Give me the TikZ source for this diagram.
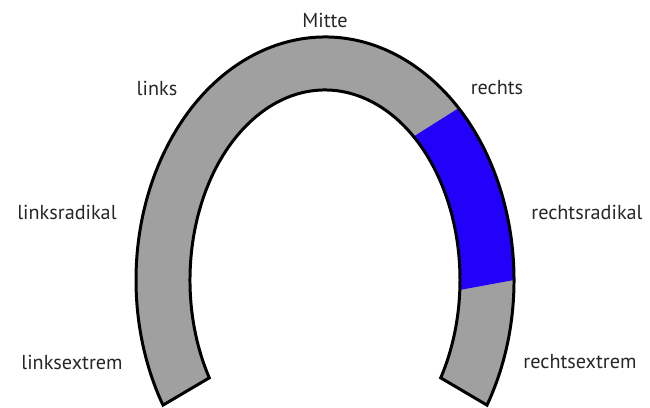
\documentclass[tikz,border=0pt]{standalone}
\usepackage{fontspec}
\setmainfont{PT Sans}
\definecolor{ringgray}{RGB}{160,160,160}
\definecolor{ringblue}{RGB}{35,0,250}
\begin{document}
\begin{tikzpicture}[x=0.02cm,y=0.02cm,
  lbl/.style={font=\fontsize{11.5}{13}\selectfont, text=black!85}]
\useasboundingbox (0,0) rectangle (650,408);
\begin{scope}[shift={(325,128)}]
  \fill[ringgray] (-31:189 and 243) arc[start angle=-31, end angle=211, x radius=189, y radius=243]
    -- (211:135 and 190) arc[start angle=211, end angle=-31, x radius=135, y radius=190] -- cycle;
  \fill[ringblue] (45:189 and 243) arc[start angle=45, end angle=0, x radius=189, y radius=243]
    -- (-3:135 and 190) arc[start angle=-3, end angle=49, x radius=135, y radius=190] -- cycle;
  \draw[line width=1.7pt] (-31:189 and 243) arc[start angle=-31, end angle=211, x radius=189, y radius=243]
    -- (211:135 and 190) arc[start angle=211, end angle=-31, x radius=135, y radius=190] -- cycle;
\end{scope}
\node[lbl] (mitte) at (325,388) {Mitte};
\node[lbl] (links) at (157,320) {links};
\node[lbl] (rechts) at (497,320) {rechts};
\node[lbl] (linksradikal) at (67,196) {linksradikal};
\node[lbl] (rechtsradikal) at (587,196) {rechtsradikal};
\node[lbl] (linksextrem) at (72,46) {linksextrem};
\node[lbl] (rechtsextrem) at (580,46) {rechtsextrem};
\end{tikzpicture}
\end{document}
